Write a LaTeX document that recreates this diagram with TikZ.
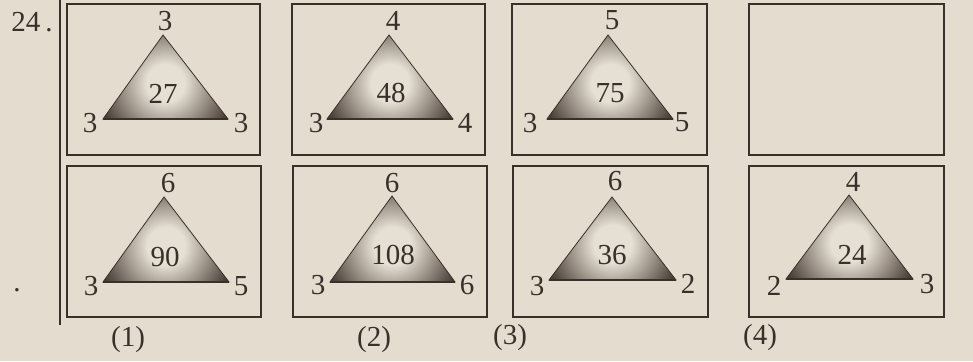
\documentclass[tikz,border=0pt]{standalone}
\usepackage{fontspec}
\setmainfont{Liberation Serif}
\usetikzlibrary{calc}
\definecolor{paper}{HTML}{E3DCCF}
\definecolor{ink}{HTML}{3A302A}
\definecolor{tridark}{HTML}{4A3E36}
\definecolor{trilight}{HTML}{E6DFD3}
\pgfdeclareradialshading{trishade}{\pgfpoint{0bp}{0bp}}{color(0bp)=(trilight); color(5bp)=(trilight); color(18bp)=(tridark); color(50bp)=(tridark)}
\tikzset{
  panel/.style={draw=ink, line width=1.6pt, minimum width=#1, minimum height=151pt, inner sep=0pt},
  num/.style={text=ink, font=\fontsize{29}{32}\selectfont, inner sep=0pt},
}
% \tri{name}{apex x}{apex y}{left x}{right x}{base y}
\newcommand\tri[6]{%
  \coordinate (#1a) at (#2,#3);
  \coordinate (#1l) at (#4,#6);
  \coordinate (#1r) at (#5,#6);
  \begin{scope}
    \clip (#1a) -- (#1l) -- (#1r) -- cycle;
    \shade[shading=trishade] ($(#1l)!0.5!(#1r)+(0,-36)$) circle (95pt);
  \end{scope}
  \draw[ink, line width=0.8pt, line join=miter] (#1a) -- (#1l) -- (#1r) -- cycle;
  \draw[ink, line width=1.6pt] (#1l) -- (#1r);
}
\begin{document}
\begin{tikzpicture}[x=1pt, y=-1pt]
\fill[paper] (0,0) rectangle (973,361);
\useasboundingbox (0,0) rectangle (973,361);

\node[num] (qno) at (32,22) {24\,.};
\node[num] (dot) at (17,290) {.};
\coordinate (vtop) at (60,0);
\coordinate (vbot) at (60,325);
\draw[ink, line width=1.2pt] (vtop) -- (vbot);

% boxes, top row
\node[panel=193pt] (b1) at (163.5,79.5) {};
\node[panel=193pt] (b2) at (388.5,79.5) {};
\node[panel=195pt] (b3) at (609.5,79.5) {};
\node[panel=195pt] (b4) at (846.5,79.5) {};
% boxes, bottom row
\node[panel=194pt] (b5) at (164,241.5) {};
\node[panel=194pt] (b6) at (390,241.5) {};
\node[panel=195pt] (b7) at (610.5,241.5) {};
\node[panel=195pt] (b8) at (846.5,241.5) {};

% triangles
\tri{t1}{163}{35}{103}{228}{119}
\tri{t2}{389}{35}{327}{453}{119}
\tri{t3}{608}{35}{547}{673}{119}
\tri{t5}{164}{197}{103}{229}{282}
\tri{t6}{392}{196}{330}{455}{282}
\tri{t7}{612}{197}{549}{676}{280}
\tri{t8}{849}{195}{786}{913}{279}

% labels
\node[num] (t1top) at (165,21) {3};
\node[num] (t1lft) at (90,123) {3};
\node[num] (t1rgt) at (241,123) {3};
\node[num] (t1mid) at (163,94) {27};

\node[num] (t2top) at (393,21) {4};
\node[num] (t2lft) at (316,123) {3};
\node[num] (t2rgt) at (465,123) {4};
\node[num] (t2mid) at (391,93) {48};

\node[num] (t3top) at (612,20) {5};
\node[num] (t3lft) at (530,123) {3};
\node[num] (t3rgt) at (682,122) {5};
\node[num] (t3mid) at (610,93) {75};

\node[num] (t5top) at (168,183) {6};
\node[num] (t5lft) at (91,286) {3};
\node[num] (t5rgt) at (241,286) {5};
\node[num] (t5mid) at (165,257) {90};

\node[num] (t6top) at (392,183) {6};
\node[num] (t6lft) at (318,285) {3};
\node[num] (t6rgt) at (467,285) {6};
\node[num] (t6mid) at (393,255) {108};

\node[num] (t7top) at (615,181) {6};
\node[num] (t7lft) at (537,286) {3};
\node[num] (t7rgt) at (688,284) {2};
\node[num] (t7mid) at (612,255) {36};

\node[num] (t8top) at (853,182) {4};
\node[num] (t8lft) at (774,286) {2};
\node[num] (t8rgt) at (927,284) {3};
\node[num] (t8mid) at (852,255) {24};

% option captions
\node[num] (o1) at (128,340) {(1)};
\node[num] (o2) at (374,340) {(2)};
\node[num] (o3) at (510,338) {(3)};
\node[num] (o4) at (760,338) {(4)};
\end{tikzpicture}
\end{document}
